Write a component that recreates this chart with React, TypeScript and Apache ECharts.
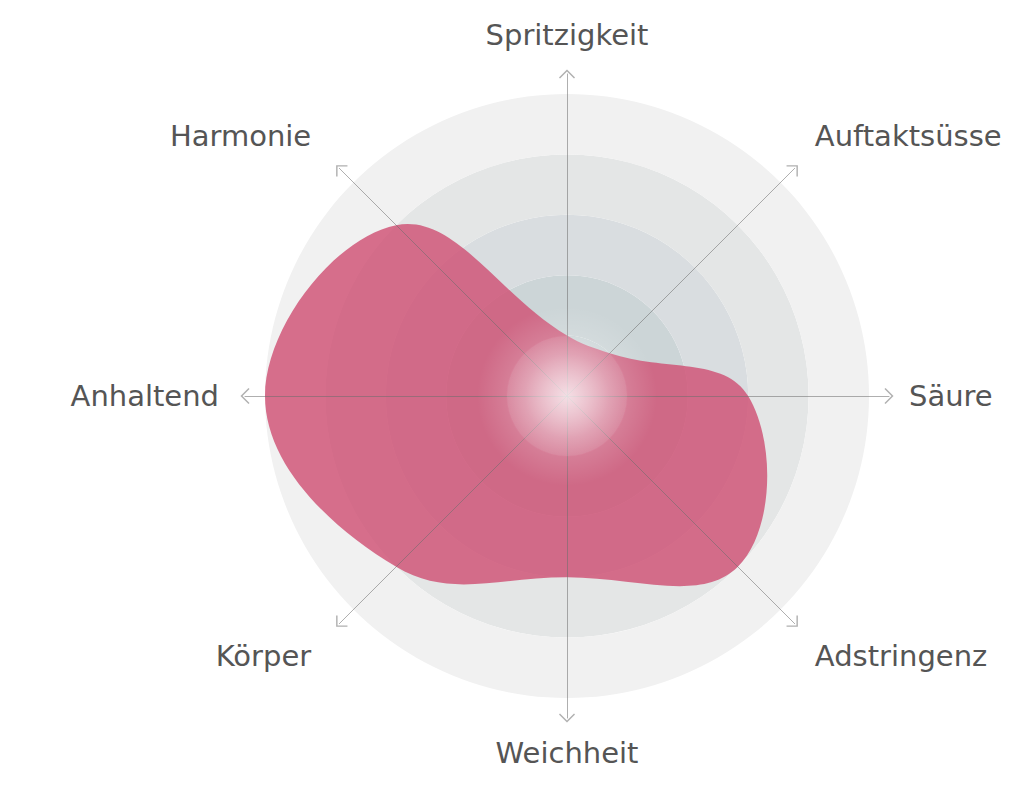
import React, { useEffect, useRef } from 'react';
import * as echarts from 'echarts';

// indicators, counterclockwise from the top (radar default order)
const categories = ['Spritzigkeit', 'Harmonie', 'Anhaltend', 'Körper', 'Weichheit', 'Adstringenz', 'Säure', 'Auftaktsüsse'];
const values = [1, 4, 5, 4, 3, 4, 3, 1];
const maxValue = 5;

const CX = 567;
const CY = 396;
const R = 302;

// label nudges per direction (top, top-left, left, ...)
const labelPad = [
  [0, 0, 5, 0],
  [0, 14, 36, 0],
  [0, 6, 0, 0],
  [36, 14, 0, 0],
  [0, 0, 0, 0],
  [36, 0, 0, 6],
  [0, 0, 0, 0],
  [0, 0, 36, 6],
];

const labelFont = { color: '#555', fontSize: 29, fontFamily: 'DejaVu Sans' };

const RadarChart = () => {
  const chartRef = useRef(null);

  useEffect(() => {
    document.body.style.margin = '0';
    const chartInstance = echarts.init(chartRef.current, null, { renderer: 'svg' });

    const indicator = categories.map((name) => ({ name, max: maxValue }));
    const rich = {};
    labelPad.forEach((p, i) => {
      rich['p' + i] = { ...labelFont, padding: p };
    });

    const option = {
      animation: false,
      radar: [
        {
          center: [CX, CY],
          radius: R,
          startAngle: 90,
          shape: 'circle',
          splitNumber: 5,
          indicator,
          axisName: { show: false },
          axisLine: { show: false },
          axisTick: { show: false },
          axisLabel: { show: false },
          splitLine: { show: false },
          splitArea: {
            show: true,
            areaStyle: {
              color: ['#c6d1d3', '#ccd5d7', '#d9dde0', '#e4e6e6', '#f1f1f1'],
            },
          },
        },
        {
          center: [CX, CY],
          radius: 322,
          startAngle: 90,
          shape: 'circle',
          splitNumber: 5,
          indicator,
          z: 3,
          nameGap: 20,
          axisName: {
            ...labelFont,
            formatter: (name) => '{p' + categories.indexOf(name) + '|' + name + '}',
            rich,
          },
          axisLine: {
            show: true,
            symbol: ['none', 'path://M8,0 L16,8 L15,9 L8,2 L1,9 L0,8 Z'],
            symbolSize: [16, 9],
            lineStyle: { color: 'rgba(110,110,110,0.55)', width: 1 },
          },
          axisTick: { show: false },
          axisLabel: { show: false },
          splitLine: { show: false },
          splitArea: { show: false },
        },
      ],
      polar: { center: [CX, CY], radius: R },
      angleAxis: {
        type: 'category',
        data: categories,
        startAngle: 90,
        clockwise: false,
        boundaryGap: false,
        show: false,
      },
      radiusAxis: { min: 0, max: maxValue, show: false },
      series: [
        {
          type: 'custom',
          coordinateSystem: 'polar',
          data: [0],
          z: 2,
          silent: true,
          renderItem: (params, api) => {
            const points = values.map((v, i) => api.coord([v, i]));
            return {
              type: 'polygon',
              shape: { points, smooth: 0.4 },
              style: { fill: '#cf5174', opacity: 0.82 },
            };
          },
        },
      ],
      graphic: [
        {
          type: 'circle',
          z: 10,
          silent: true,
          shape: { cx: CX, cy: CY, r: 90 },
          style: {
            fill: new echarts.graphic.RadialGradient(0.5, 0.5, 0.5, [
              { offset: 0, color: 'rgba(255,255,255,0.45)' },
              { offset: 0.65, color: 'rgba(255,255,255,0.15)' },
              { offset: 1, color: 'rgba(255,255,255,0)' },
            ]),
          },
        },
        {
          type: 'circle',
          z: 11,
          silent: true,
          shape: { cx: CX, cy: CY, r: 60 },
          style: {
            fill: new echarts.graphic.RadialGradient(0.5, 0.5, 0.5, [
              { offset: 0, color: 'rgba(255,255,255,0.6)' },
              { offset: 0.7, color: 'rgba(255,255,255,0.2)' },
              { offset: 1, color: 'rgba(255,255,255,0.1)' },
            ]),
          },
        },
      ],
    };

    chartInstance.setOption(option);

    return () => {
      chartInstance.dispose();
    };
  }, []);

  return <div ref={chartRef} style={{ width: '1024px', height: '789px' }} />;
};

export default function App() {
  return <RadarChart />;
}
